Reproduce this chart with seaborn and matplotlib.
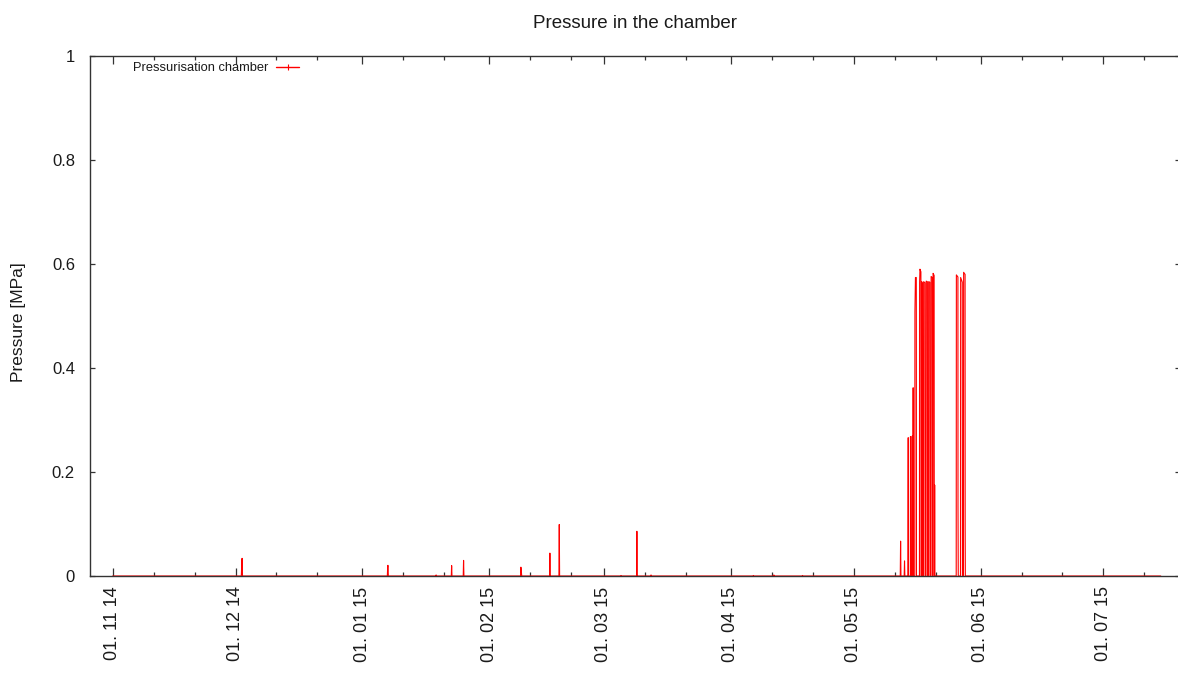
import matplotlib
matplotlib.use("Agg")
import matplotlib.pyplot as plt
import matplotlib.dates as mdates
from matplotlib.lines import Line2D
from matplotlib.ticker import FixedLocator, FuncFormatter
import pandas as pd
import seaborn as sns

# Chamber pressure log (MPa); readings return to zero between pressurisation cycles
timestamps = [
    "2014-11-01 00:00",
    "2014-12-02 10:00", "2014-12-02 12:00", "2014-12-02 14:30", "2014-12-02 17:00",
    "2015-01-07 02:00", "2015-01-07 04:00", "2015-01-07 05:30", "2015-01-07 08:00",
    "2015-01-18 22:00", "2015-01-19 00:00", "2015-01-19 02:00",
    "2015-01-22 17:00", "2015-01-22 19:00", "2015-01-22 21:00",
    "2015-01-25 15:00", "2015-01-25 17:00", "2015-01-25 19:00",
    "2015-02-08 15:00", "2015-02-08 17:00", "2015-02-08 20:00", "2015-02-08 22:00",
    "2015-02-15 17:00", "2015-02-15 19:00", "2015-02-15 21:00",
    "2015-02-18 00:00", "2015-02-18 02:00", "2015-02-18 04:00",
    "2015-03-05 02:00", "2015-03-05 04:00", "2015-03-05 06:00",
    "2015-03-08 23:00", "2015-03-09 01:00", "2015-03-09 03:00",
    "2015-03-12 10:00", "2015-03-12 12:00", "2015-03-12 14:00",
    "2015-04-06 10:00", "2015-04-06 12:00", "2015-04-06 14:00",
    "2015-04-11 10:00", "2015-04-11 12:00", "2015-04-11 14:00",
    "2015-04-18 10:00", "2015-04-18 12:00", "2015-04-18 14:00",
    "2015-05-12 09:00", "2015-05-12 11:00", "2015-05-12 13:00",
    "2015-05-13 08:00", "2015-05-13 10:00", "2015-05-13 12:00",
    "2015-05-14 06:00", "2015-05-14 07:40", "2015-05-14 09:00",
    "2015-05-14 20:00", "2015-05-14 21:00", "2015-05-14 22:30",
    "2015-05-15 06:00", "2015-05-15 07:00", "2015-05-15 08:00",
    "2015-05-15 11:30", "2015-05-15 12:40", "2015-05-15 13:40",
    "2015-05-15 22:00", "2015-05-15 23:00", "2015-05-16 02:00", "2015-05-16 07:00", "2015-05-16 08:00",
    "2015-05-17 01:30", "2015-05-17 02:30", "2015-05-17 04:30", "2015-05-17 10:00", "2015-05-17 11:00",
    "2015-05-17 13:30", "2015-05-17 14:30", "2015-05-17 19:00", "2015-05-17 20:00",
    "2015-05-18 01:00", "2015-05-18 02:00", "2015-05-18 09:30", "2015-05-18 10:30",
    "2015-05-18 16:00", "2015-05-18 17:00", "2015-05-19 00:00", "2015-05-19 01:00",
    "2015-05-19 06:30", "2015-05-19 07:30", "2015-05-19 14:30", "2015-05-19 15:30",
    "2015-05-19 21:00", "2015-05-19 22:00", "2015-05-20 05:00", "2015-05-20 06:00",
    "2015-05-20 08:30", "2015-05-20 09:30", "2015-05-20 15:30", "2015-05-20 16:30",
    "2015-05-20 18:00", "2015-05-20 18:40", "2015-05-20 19:30",
    "2015-05-26 01:00", "2015-05-26 02:00", "2015-05-26 11:00", "2015-05-26 11:30", "2015-05-26 13:00",
    "2015-05-27 02:00", "2015-05-27 03:00", "2015-05-27 12:30", "2015-05-27 13:30",
    "2015-05-27 19:30", "2015-05-27 20:30", "2015-05-28 05:00", "2015-05-28 05:30", "2015-05-28 06:30",
    "2015-07-15 00:00",
]
pressure_mpa = [
    0.0,
    0.0, 0.017, 0.034, 0.0,
    0.0, 0.016, 0.0205, 0.0,
    0.0, 0.002, 0.0,
    0.0, 0.020, 0.0,
    0.0, 0.030, 0.0,
    0.0, 0.017, 0.007, 0.0,
    0.0, 0.044, 0.0,
    0.0, 0.099, 0.0,
    0.0, 0.001, 0.0,
    0.0, 0.086, 0.0,
    0.0, 0.002, 0.0,
    0.0, 0.001, 0.0,
    0.0, 0.002, 0.0,
    0.0, 0.001, 0.0,
    0.0, 0.067, 0.0,
    0.0, 0.029, 0.0,
    0.0, 0.266, 0.0,
    0.0, 0.268, 0.0,
    0.0, 0.269, 0.0,
    0.0, 0.362, 0.0,
    0.0, 0.508, 0.574, 0.574, 0.0,
    0.0, 0.565, 0.590, 0.585, 0.0,
    0.0, 0.566, 0.563, 0.0,
    0.0, 0.566, 0.564, 0.0,
    0.0, 0.567, 0.566, 0.0,
    0.0, 0.566, 0.565, 0.0,
    0.0, 0.576, 0.574, 0.0,
    0.0, 0.582, 0.578, 0.0,
    0.0, 0.175, 0.0,
    0.0, 0.579, 0.575, 0.133, 0.0,
    0.0, 0.574, 0.565, 0.0,
    0.0, 0.584, 0.580, 0.092, 0.0,
    0.0,
]
y_ticks = [0, 0.2, 0.4, 0.6, 0.8, 1.0]
x_range = ["2014-10-26 11:00", "2015-07-19 14:00"]
series_name = "Pressurisation chamber"

df = pd.DataFrame({"time": pd.to_datetime(timestamps), "pressure": pressure_mpa})

sns.set_theme(style="ticks")
plt.rcParams["font.family"] = ["Liberation Sans", "DejaVu Sans"]
axis_col = "#333333"
text_col = "#1a1a1a"

fig = plt.figure(figsize=(11.78, 6.73), dpi=100)
W, H = 1178.0, 673.0
ax = fig.add_axes([90 / W, (H - 576) / H, (1179.5 - 90) / W, 520 / H])

sns.lineplot(data=df, x="time", y="pressure", ax=ax, color="#ff0000",
             linewidth=0.8, estimator=None, sort=False, legend=False)

ax.set_xlim(pd.to_datetime(x_range[0]), pd.to_datetime(x_range[1]))
ax.set_ylim(0, 1)

ax.xaxis.set_major_locator(mdates.MonthLocator())
ax.xaxis.set_minor_locator(mdates.DayLocator(bymonthday=[11, 21]))
ax.xaxis.set_major_formatter(mdates.DateFormatter("%d. %m %y"))
ax.yaxis.set_major_locator(FixedLocator(y_ticks))
ax.yaxis.set_major_formatter(FuncFormatter(lambda v, p: f"{v:g}"))

for s in ax.spines.values():
    s.set_color(axis_col)
    s.set_linewidth(1.0)
    s.set_visible(True)

ax.tick_params(axis="x", which="major", direction="in", length=5.8, width=0.9,
               color=axis_col, top=True, bottom=True, labelsize=13,
               labelcolor=text_col, pad=7.5, labelrotation=90)
ax.tick_params(axis="x", which="minor", direction="in", length=2.9, width=0.9,
               color=axis_col, top=True, bottom=True)
ax.tick_params(axis="y", which="major", direction="in", length=3.6, width=0.9,
               color=axis_col, left=True, right=True, labelsize=12,
               labelcolor=text_col, pad=10.8)
ax.grid(False)

ax.set_xlabel("")
ax.set_ylabel("Pressure [MPa]", fontsize=12.5, color=text_col)
ax.yaxis.set_label_coords((26 - 90) / 1089.5, (576 - 322) / 520)
ax.set_title("Pressure in the chamber", fontsize=13.5, color=text_col, pad=20.5)

handle = Line2D([], [], color="#ff0000", linewidth=1.0, marker="|",
                markersize=4, markeredgewidth=0.8)
fig.legend([handle], [series_name], loc="center left",
           bbox_to_anchor=(133 / W, 1 - 68 / H), frameon=False,
           markerfirst=False, handlelength=1.8, handletextpad=0.6,
           borderpad=0, borderaxespad=0, fontsize=9.3,
           labelcolor=text_col)

fig.savefig("out.png", dpi=100)
